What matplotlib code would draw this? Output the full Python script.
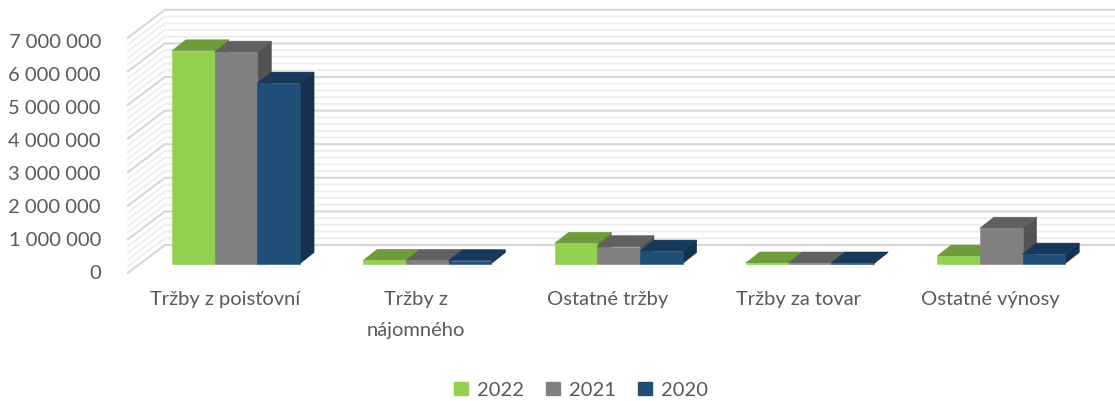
import matplotlib
matplotlib.use("Agg")
import matplotlib.pyplot as plt
from matplotlib.patches import Polygon, Patch
from matplotlib.lines import Line2D
import numpy as np

# ---------------- data ----------------
categories = ["Tržby z poisťovní", "Tržby z\nnájomného", "Ostatné tržby",
              "Tržby za tovar", "Ostatné výnosy"]
series_names = ["2022", "2021", "2020"]
values_2022 = [6330000, 95000, 600000, 15000, 220000]
values_2021 = [6290000, 90000, 500000, 15000, 1050000]
values_2020 = [5370000, 85000, 370000, 15000, 280000]
y_ticks = [0, 1000000, 2000000, 3000000, 4000000, 5000000, 6000000, 7000000]
y_max = 7000000
minor_step = 200000

front_colors = ["#92D050", "#808080", "#1F4E79"]
top_colors = ["#6E9C3B", "#606060", "#173A5C"]
side_colors = ["#5C8532", "#535353", "#15314E"]
text_color = "#595959"

# ---------------- figure ----------------
W, H = 1115, 401
fig = plt.figure(figsize=(W / 100, H / 100), dpi=100)
ax = fig.add_axes([140.35 / W, 137.5 / H, 956.5 / W, 235.2 / H])
ax.set_xlim(-0.5, len(categories) - 0.5)
ax.set_ylim(0, y_max)
ax.axis("off")

FONT = "Lato"
FS = 14.5

# depth vectors in pixels (display coords, y up)
D = (14.0, 11.0)      # bar depth
B = (24.5, 18.5)      # back wall offset from bar plane
F = (-12.5, -9.5)     # front edge offset from bar plane


def shift(x, y, dx, dy):
    p = ax.transData.transform((x, y))
    return tuple(ax.transData.inverted().transform((p[0] + dx, p[1] + dy)))


# ---------------- walls ----------------
n_minor = int(y_max // minor_step)
for k in range(n_minor + 1):
    v = k * minor_step
    major = (v % 1000000 == 0)
    col = "#D6D6D6" if major else "#EDEDED"
    lw = 1.5 if major else 1.3
    p0 = shift(-0.5, v, *F)
    p1 = shift(-0.5, v, *B)
    p2 = shift(len(categories) + 1, v, *B)
    ax.add_line(Line2D([p0[0], p1[0], p2[0]], [p0[1], p1[1], p2[1]],
                       color=col, lw=lw, clip_on=False, zorder=1,
                       solid_joinstyle="miter"))

# ---------------- bars ----------------
series = [values_2022, values_2021, values_2020]
bw = 42.7 / 191.3
x = np.arange(len(categories))
for i in range(len(categories)):
    for k, vals in enumerate(series):
        xc = x[i] + (k - 1) * bw
        v = vals[i]
        xl, xr = xc - bw / 2, xc + bw / 2
        z = 3 + i * 3 + k
        # side face
        side = [(xr, 0), (xr, v), shift(xr, v, *D), shift(xr, 0, *D)]
        ax.add_patch(Polygon(side, closed=True, facecolor=side_colors[k],
                             edgecolor=side_colors[k], lw=0.4, zorder=z,
                             clip_on=False))
        # top face
        top = [(xl, v), (xr, v), shift(xr, v, *D), shift(xl, v, *D)]
        ax.add_patch(Polygon(top, closed=True, facecolor=top_colors[k],
                             edgecolor=top_colors[k], lw=0.4, zorder=z,
                             clip_on=False))
        # front face
        ax.bar(xc, v, width=bw, color=front_colors[k], edgecolor=front_colors[k],
               lw=0.4, zorder=z, clip_on=False)

# ---------------- y tick labels ----------------
base = ax.transData.transform((-0.5, 0))[1]
for v in y_ticks:
    py = ax.transData.transform((-0.5, v))[1]
    fy = (base + (py - base) * 0.982 + F[1] - 0.5) / H
    fig.text(101 / W, fy, f"{v:,}".replace(",", " "), ha="right", va="center",
             fontsize=FS, color=text_color, family=FONT)

# ---------------- category labels ----------------
for i, cat in enumerate(categories):
    px = ax.transData.transform((x[i], 0))
    fx = (px[0] - 11) / W
    fy = (H - 291) / H
    fig.text(fx, fy, cat, ha="center", va="top", fontsize=FS,
             color=text_color, family=FONT, linespacing=2.0)

# ---------------- legend ----------------
handles = [Patch(facecolor=c, edgecolor=c) for c in front_colors]
leg = fig.legend(handles, series_names, loc="center",
                 bbox_to_anchor=(581 / W, 11 / H), ncol=3, frameon=False,
                 handlelength=0.68, handleheight=0.68, handletextpad=0.45,
                 columnspacing=1.1, borderpad=0,
                 prop={"family": FONT, "size": FS})
for t in leg.get_texts():
    t.set_color(text_color)

fig.savefig("out.png", dpi=100)
